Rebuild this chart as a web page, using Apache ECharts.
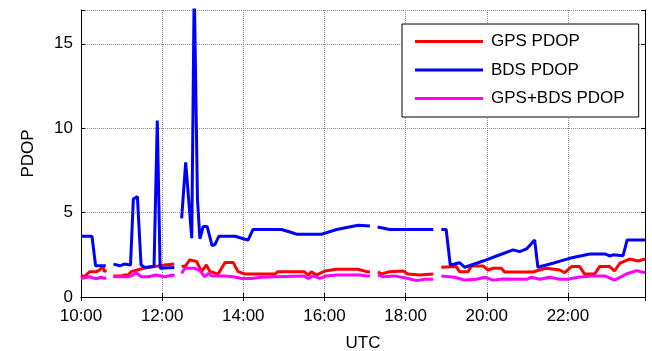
<!DOCTYPE html>
<html>
<head>
<meta charset="utf-8">
<script src="https://cdn.jsdelivr.net/npm/echarts@6/dist/echarts.min.js"></script>
<style>
  html, body { margin: 0; padding: 0; background: #fff; }
  #chart { width: 652px; height: 351px; }
</style>
</head>
<body>
<div id="chart"></div>
<script>
// time in hours (UTC), value = PDOP; null marks a data gap
const gpsPdop = [
  [10.00, 1.3], [10.09, 1.2], [10.21, 1.5], [10.38, 1.5], [10.46, 1.6], [10.54, 1.8], [10.58, 1.5], [10.62, 1.6], [10.7, null],
  [10.80, 1.25], [10.99, 1.25], [11.08, 1.3], [11.16, 1.3], [11.24, 1.5], [11.45, 1.64], [11.65, 1.76], [11.90, 1.84], [12.06, 1.9], [12.30, 1.95], [12.4, null],
  [12.48, 1.8], [12.58, 1.85], [12.68, 2.2], [12.85, 2.1], [12.97, 1.5], [13.09, 1.9], [13.18, 1.5], [13.38, 1.36], [13.55, 2.05], [13.75, 2.05],
  [13.87, 1.5], [14.04, 1.36], [14.78, 1.36], [14.85, 1.5], [15.50, 1.5], [15.60, 1.3], [15.68, 1.5], [15.80, 1.3], [16.01, 1.54], [16.30, 1.64],
  [16.83, 1.64], [17.04, 1.5], [17.12, 1.5], [17.2, null],
  [17.32, 1.5], [17.40, 1.36], [17.61, 1.5], [17.94, 1.54], [18.06, 1.36], [18.35, 1.3], [18.68, 1.36], [18.78, null],
  [18.88, 1.76], [19.25, 1.8], [19.33, 1.5], [19.54, 1.5], [19.62, 1.84], [19.91, 1.84], [20.03, 1.6], [20.16, 1.7], [20.36, 1.7], [20.44, 1.48],
  [21.14, 1.48], [21.30, 1.6], [21.47, 1.7], [21.80, 1.6], [21.92, 1.44], [22.09, 1.8], [22.29, 1.8], [22.41, 1.36], [22.66, 1.36], [22.78, 1.8],
  [23.03, 1.8], [23.15, 1.54], [23.28, 2.0], [23.52, 2.25], [23.73, 2.13], [23.9, 2.25]
];

const bdsPdop = [
  [10.00, 3.6], [10.27, 3.6], [10.36, 1.85], [10.61, 1.85], [10.7, null],
  [10.80, 1.95], [10.96, 1.85], [11.06, 1.95], [11.22, 1.9], [11.29, 5.8], [11.39, 5.95], [11.48, 1.9], [11.58, 1.75], [11.80, 1.8], [11.88, 10.45],
  [11.95, 1.7], [12.30, 1.75], [12.4, null],
  [12.48, 4.66], [12.58, 7.98], [12.73, 3.48], [12.79, 18.5], [12.87, 5.8], [12.93, 3.45], [13.01, 4.17], [13.11, 4.17], [13.23, 3.05], [13.30, 3.1],
  [13.40, 3.6], [13.80, 3.6], [14.00, 3.45], [14.12, 3.38], [14.24, 4.0], [14.94, 4.0], [15.15, 3.85], [15.31, 3.72], [15.93, 3.72], [16.30, 4.0],
  [16.83, 4.25], [17.12, 4.2], [17.2, null],
  [17.31, 4.15], [17.61, 4.0], [18.68, 4.0], [18.78, null],
  [18.88, 4.0], [19.00, 4.0], [19.10, 1.9], [19.33, 2.03], [19.46, 1.76], [19.91, 2.13], [20.24, 2.43], [20.65, 2.79], [20.81, 2.69], [20.98, 2.85],
  [21.18, 3.38], [21.26, 1.76], [21.63, 2.0], [22.04, 2.29], [22.54, 2.55], [22.91, 2.55], [23.03, 2.43], [23.11, 2.5], [23.36, 2.45], [23.46, 3.38],
  [23.9, 3.38]
];

const comboPdop = [
  [10.00, 1.1], [10.21, 1.2], [10.37, 1.07], [10.49, 1.17], [10.58, 1.1], [10.62, 1.15], [10.7, null],
  [10.80, 1.2], [11.16, 1.2], [11.24, 1.25], [11.36, 1.44], [11.49, 1.2], [11.65, 1.2], [11.85, 1.3], [12.06, 1.2], [12.27, 1.3], [12.30, 1.25], [12.4, null],
  [12.48, 1.4], [12.56, 1.7], [12.81, 1.7], [12.93, 1.56], [13.05, 1.2], [13.14, 1.4], [13.22, 1.25], [13.55, 1.25], [13.75, 1.2], [13.96, 1.1],
  [14.20, 1.1], [14.45, 1.17], [14.78, 1.2], [15.48, 1.25], [15.60, 1.1], [15.72, 1.25], [15.89, 1.1], [16.05, 1.25], [16.30, 1.3], [16.87, 1.3],
  [17.04, 1.25], [17.12, 1.25], [17.2, null],
  [17.32, 1.3], [17.45, 1.2], [17.73, 1.25], [18.06, 1.1], [18.27, 0.97], [18.47, 1.05], [18.68, 1.05], [18.78, null],
  [18.88, 1.25], [19.21, 1.17], [19.46, 1.0], [19.75, 1.05], [19.95, 1.17], [20.16, 1.0], [20.40, 1.07], [20.98, 1.05], [21.10, 1.17], [21.31, 1.05],
  [21.55, 1.17], [21.80, 1.05], [22.00, 1.05], [22.25, 1.17], [22.58, 1.25], [22.91, 1.25], [23.15, 1.0], [23.44, 1.36], [23.69, 1.56], [23.9, 1.44]
];

const seriesNames = ['GPS PDOP', 'BDS PDOP', 'GPS+BDS PDOP'];
const seriesColors = ['#ff0000', '#0000ff', '#ff00ff'];
const xTicks = [10, 12, 14, 16, 18, 20, 22];
const yTicks = [0, 5, 10, 15];

const font = 'Liberation Sans, Arial, sans-serif';
const chart = echarts.init(document.getElementById('chart'));

const boxAxis = {
  axisLine: { show: true, lineStyle: { color: '#000', width: 1 } },
  axisTick: { show: true, inside: true, length: 4, lineStyle: { color: '#000' } },
  axisLabel: { show: false },
  splitLine: { show: false }
};

chart.setOption({
  animation: false,
  backgroundColor: '#fff',
  grid: { left: 81, right: 7, top: 10, bottom: 54, outerBoundsMode: 'none' },
  legend: {
    data: seriesNames,
    orient: 'vertical',
    left: 402, top: 24,
    padding: [9, 14, 10, 13],
    itemGap: 11.5,
    itemWidth: 68, itemHeight: 3,
    icon: 'rect',
    backgroundColor: '#fff',
    borderColor: '#000', borderWidth: 1, borderRadius: 0,
    textStyle: { fontFamily: font, fontSize: 17, color: '#000', padding: [0, 0, 0, 3] }
  },
  xAxis: [
    {
      type: 'value',
      min: 10, max: 23.9, interval: 2,
      name: 'UTC', nameLocation: 'middle', nameGap: 38,
      nameTextStyle: { fontFamily: font, fontSize: 17, color: '#000' },
      axisLine: { show: true, onZero: false, lineStyle: { color: '#000', width: 1 } },
      axisTick: { show: true, inside: true, length: 4, lineStyle: { color: '#000' } },
      axisLabel: {
        fontFamily: font, fontSize: 17, color: '#000', margin: 11,
        formatter: v => xTicks.includes(v) ? v + ':00' : ''
      },
      splitLine: { show: true, lineStyle: { color: '#8a8a8a', type: 'dotted', width: 1 } }
    },
    Object.assign({}, boxAxis, { type: 'value', position: 'top', min: 10, max: 23.9, interval: 2 })
  ],
  yAxis: [
    {
      type: 'value',
      min: 0, max: 17, interval: 5,
      name: 'PDOP', nameLocation: 'middle', nameGap: 44,
      nameTextStyle: { fontFamily: font, fontSize: 17, color: '#000' },
      axisLine: { show: true, onZero: false, lineStyle: { color: '#000', width: 1 } },
      axisTick: { show: true, inside: true, length: 4, lineStyle: { color: '#000' } },
      axisLabel: {
        fontFamily: font, fontSize: 17, color: '#000', margin: 8,
        formatter: v => yTicks.includes(v) ? String(v) : ''
      },
      splitLine: { show: true, lineStyle: { color: '#8a8a8a', type: 'dotted', width: 1 } }
    },
    Object.assign({}, boxAxis, { type: 'value', position: 'right', min: 0, max: 17, interval: 5 })
  ],
  series: [gpsPdop, bdsPdop, comboPdop].map((d, i) => ({
    name: seriesNames[i],
    type: 'line',
    data: d,
    showSymbol: false,
    connectNulls: false,
    clip: true,
    lineStyle: { color: seriesColors[i], width: 3 },
    itemStyle: { color: seriesColors[i] }
  }))
});
</script>
</body>
</html>
